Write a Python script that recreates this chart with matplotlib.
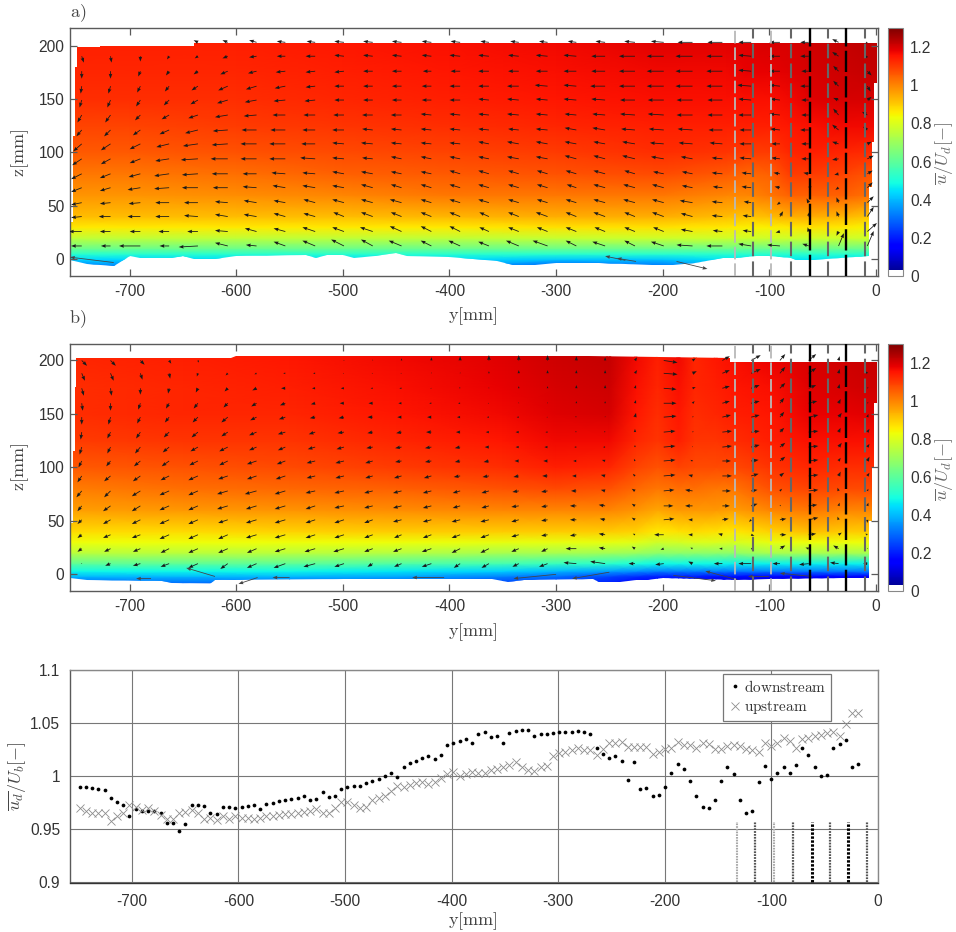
import numpy as np
import matplotlib
matplotlib.use('Agg')
import matplotlib.pyplot as plt
from matplotlib.colors import ListedColormap, Normalize
from matplotlib.cm import ScalarMappable
from matplotlib.patches import Polygon

plt.rcParams['font.family'] = ['Liberation Sans', 'DejaVu Sans']
plt.rcParams['mathtext.fontset'] = 'cm'
plt.rcParams['axes.unicode_minus'] = False
n = float('nan')

# ---------- bottom panel ----------
downstream = [.990,.990,.989,.988,.987,.979,.976,.973,.962,.969,.967,.9675,.967,.965,.956,.956,.948,.955,.973,.973,.972,.965,.964,.971,.971,.970,.971,.972,.973,.969,.974,.975,.9765,.977,.978,.979,.981,.977,.978,.985,.980,.981,.988,.990,.991,.991,.993,.995,.9975,1.0,1.003,.999,1.008,1.012,1.014,1.017,1.019,1.016,1.020,1.029,1.031,1.033,1.035,1.031,1.039,
 1.0416,1.037,1.0375,1.031,1.0406,1.042,1.043,1.0434,1.038,1.039,1.039,1.0406,1.041,1.041,1.041,1.042,1.041,1.039,1.0266,1.021,1.0166,1.019,1.014,.9966,1.013,.988,.989,.9816,.982,.9897,1.0025,1.011,1.007,.9956,.9816,.971,.970,.977,.995,1.008,1.002,.977,.965,.967,.994,1.009,.9975,1.0025,1.008,1.003,1.010,1.0266,1.02,1.008,1.0,1.001,1.0266,1.03,1.034,1.008,1.011]
upstream = [.9697,.9675,.9656,.965,.9656,.958,.9625,.965,.9725,.9706,.968,.97,.9675,.9634,.960,.960,.9656,.9666,.968,.965,.960,.9603,.959,.962,.96,.9625,.961,.961,.96,.9606,.962,.962,.963,.9644,.9644,.9656,.9666,.9675,.969,.965,.965,.970,.976,.976,.973,.9697,.971,.9775,.979,.981,.986,.991,.990,.9916,.993,.9947,.9925,.9947,.998,1.0016,1.004,1.0,1.0016,1.004,1.0025,
 1.003,1.006,1.007,1.008,1.0106,1.013,1.008,1.0056,1.0044,1.008,1.0097,1.019,1.022,1.023,1.0244,1.026,1.024,1.0244,1.020,1.025,1.0306,1.031,1.032,1.0275,1.0275,1.0275,1.0275,1.021,1.0225,1.025,1.026,1.032,1.029,1.029,1.026,1.0306,1.0297,1.0256,1.0256,1.028,1.029,1.028,1.025,1.0244,1.023,1.0306,1.028,1.031,1.036,1.033,1.026,1.035,1.036,1.0375,1.0384,1.0406,1.0416,1.0375,1.0484,1.059,1.0588]
station_y = np.linspace(-749, -18.5, len(downstream))

probe_light = [-132, -98]
probe_gray = [-115, -80, -45, -10]
probe_black = [-62, -28]

x_ticks = [-700, -600, -500, -400, -300, -200, -100, 0]

# ---------- panel a colour field ----------
field_a_y = [-756,-700,-600,-500,-400,-300,-200,-140,-120,-100,-80,-60,-30,2]
field_a_z = [-8,0,5,10,20,30,40,60,80,100,125,150,175,205]
field_a = [
 [.30,.30,.36,.36,.36,.25,.28,.38,.38,.38,.38,.38,.38,.38],
 [.44,.44,.45,.45,.45,.42,.42,.46,.46,.46,.46,.46,.46,.46],
 [.52,.52,.52,.52,.52,.52,.52,.52,.52,.52,.52,.52,.52,.52],
 [.62,.62,.62,.62,.62,.62,.62,.62,.62,.62,.62,.62,.62,.62],
 [.76,.76,.76,.76,.76,.77,.78,.78,.78,.78,.78,.78,.78,.78],
 [.86,.86,.86,.86,.86,.87,.87,.86,.85,.85,.86,.87,.86,.84],
 [.92,.92,.92,.92,.93,.94,.94,.92,.91,.92,.94,.94,.93,.9],
 [.98,.98,.99,1.0,1.02,1.02,1.02,1.0,1.0,1.02,1.05,1.05,1.05,1.02],
 [1.02,1.02,1.03,1.05,1.06,1.07,1.08,1.06,1.04,1.05,1.1,1.1,1.09,1.06],
 [1.06,1.06,1.07,1.08,1.09,1.1,1.12,1.11,1.1,1.1,1.13,1.14,1.13,1.12],
 [1.09,1.09,1.10,1.11,1.12,1.13,1.14,1.14,1.14,1.14,1.15,1.16,1.17,1.17],
 [1.12,1.12,1.12,1.13,1.14,1.15,1.16,1.16,1.16,1.16,1.17,1.19,1.2,1.2],
 [1.13,1.13,1.13,1.14,1.15,1.16,1.17,1.17,1.18,1.18,1.19,1.2,1.21,1.22],
 [1.14,1.14,1.14,1.15,1.16,1.17,1.19,1.19,1.19,1.2,1.2,1.21,1.22,1.23],
]
outline_a_y = [-749,-728,-728,-640,-640,1,1,-2,-2,-4,-4,-6,-6,-60,-75,-80,-100,-112,-130,-143,-170,-190,-210,-260,-300,-320,-340,-355,-400,-440,-450,-470,-490,-500,-515,-525,-535,-600,-620,-640,-650,-660,-690,-700,-715,-740,-756,-756,-753,-753,-751,-751,-749]
outline_a_z = [199,199,200,200,202,202,165,165,110,110,68,68,3,-1,-1,1,3,3,1,1,-3,-5,-5,-3,-3,-5,-5,-2,2,3,6,3,1,4,4,1,4,3,0,0,3,1,1,3,-6,-4,-1,35,35,115,115,180,180]

# ---------- panel b colour field ----------
field_b_y = [-756,-650,-550,-450,-350,-300,-250,-225,-205,-185,-170,-150,-135,-100,-60,-30,2]
field_b_z = [-8,-2,3,10,20,30,40,60,80,100,125,150,175,205]
field_b = [
 [.3,.3,.3,.3,.25,.25,.2,.15,.15,.15,.15,.12,.1,.1,.1,.1,.1],
 [.40,.40,.40,.38,.33,.3,.25,.22,.2,.2,.2,.18,.18,.16,.16,.16,.16],
 [.48,.48,.48,.46,.43,.40,.37,.35,.33,.33,.33,.33,.32,.32,.32,.32,.32],
 [.6,.6,.6,.58,.56,.54,.52,.5,.48,.48,.48,.48,.47,.47,.47,.47,.47],
 [.75,.75,.75,.74,.72,.72,.71,.7,.68,.68,.68,.68,.68,.72,.72,.72,.72],
 [.83,.83,.83,.83,.82,.82,.82,.81,.78,.79,.80,.80,.79,.82,.83,.83,.83],
 [.88,.88,.89,.90,.90,.90,.90,.89,.86,.87,.88,.87,.86,.89,.92,.9,.9],
 [.96,.97,.98,.99,1.0,1.0,1.0,.98,.95,.97,.97,.97,.96,1.0,1.02,1.0,1.0],
 [1.01,1.03,1.04,1.05,1.07,1.08,1.07,1.04,1.02,1.03,1.03,1.02,1.02,1.07,1.09,1.08,1.08],
 [1.06,1.07,1.08,1.1,1.12,1.14,1.13,1.09,1.07,1.09,1.08,1.08,1.08,1.11,1.13,1.12,1.12],
 [1.1,1.11,1.11,1.13,1.15,1.17,1.17,1.13,1.11,1.14,1.11,1.11,1.12,1.14,1.16,1.16,1.16],
 [1.12,1.13,1.13,1.15,1.17,1.19,1.2,1.15,1.12,1.15,1.12,1.13,1.14,1.15,1.18,1.18,1.19],
 [1.12,1.13,1.14,1.16,1.18,1.2,1.21,1.16,1.13,1.16,1.13,1.14,1.15,1.16,1.19,1.2,1.21],
 [1.13,1.14,1.15,1.17,1.19,1.21,1.22,1.17,1.14,1.17,1.13,1.15,1.16,1.18,1.2,1.21,1.22],
]
outline_b_y = [-750,-605,-600,-270,-137,-137,1,1,-2,-2,-4,-4,-6,-6,-30,-100,-130,-200,-215,-225,-240,-260,-265,-330,-345,-360,-500,-620,-625,-660,-670,-740,-756,-756,-753,-753,-751,-751,-750]
outline_b_z = [202,202,204,204,202,199,199,160,160,100,100,50,50,-3,-3,-4,-5,-3,-5,-5,-7,-7,-4,-5,-7,-4,-4,-5,-9,-8,-6,-5,-3,48,48,115,115,175,175]

# ---------- arrow grid (one row per height, one column per station) ----------
arrow_y = [-745,-718,-690,-663,-636,-608,-581,-554,-526,-499,-472,-445,-417,-390,-363,-335,-308,-281,-254,-226,-199,-172,-144,-117,-90,-63,-35,-8]
arrow_a_z = [12.5,26,40,53,67,80,94,108,121,135,149,162,176,190,203]
arrow_b_z = [10,24,37,51,64,78,92,106,119,133,147,160,174,188,200]

a_dy = [
 [-10,-9,-20,-9,-18,-12,-10,-11,-12,-12,-11,-12,-10,-11,-10,-12,-14,-10,-12,-10,-12,-15,-15,-12,-12,-6,5,6],
 [-12,-10,-10,-10,-10,-12,-11,-11,-12,-11,-12,-11,-10,-10,-9,-10,-10,-10,-10,-10,-10,-11,-9,-8,-4,-1,-2,9],
 [-10,-11,-12,-13,-13,-12,-12,-11,-11,-10,-11,-10,-10,-10,-9,-10,-11,-10,-11,-10,-11,-11,-10,-8,3,1,-2,6],
 [-10,-10,-11,-13,-13,-12,-12,-11,-11,-11,-11,-11,-10,-10,-10,-10,-10,-10,-11,-11,-11,-12,-10,-7,-3,-2,-2,6],
 [-10,-10,-12,-14,-15,-14,-13,-12,-12,-11,-11,-10,-10,-10,-10,-10,-10,-9,-11,-11,-11,-10,-9,-9,-5,3,-3,5],
 [-10,-10,-11,-14,-15,-15,-13,-13,-12,-11,-11,-10,-10,-10,-10,-10,-10,-10,-11,-10,-10,-10,-10,-9,-6,-5,-4,5],
 [-9,-9,-10,-13,-16,-16,-15,-15,-14,-11,-10,-10,-10,-10,-10,-11,-11,-11,-11,-12,-12,-11,-10,-11,-8,-7,-6,6],
 [-8,-9,-10,-12,-14,-15,-15,-15,-13,-11,-11,-10,-10,-10,-10,-11,-11,-11,-11,-12,-13,-13,-12,-11,-8,-7,-6,4],
 [-5,-6,-7,-9,-12,-14,-14,-14,-12,-11,-10,-10,-10,-10,-10,-10,-11,-11,-12,-13,-14,-14,-13,-11,-9,-8,-6,-4],
 [-4,-5,-5,-7,-9,-12,-12,-12,-11,-10,-10,-10,-10,-10,-10,-11,-11,-11,-12,-14,-15,-15,-14,-12,-10,-7,-5,-5],
 [-2,-3,-4,-5,-7,-10,-11,-11,-10,-9,-9,-9,-9,-10,-10,-11,-11,-12,-13,-14,-15,-15,-14,-12,-9,-7,-5,4],
 [-1,-2,-3,-4,-6,-9,-10,-10,-9,-9,-9,-9,-9,-10,-10,-11,-12,-12,-14,-15,-16,-16,-15,-13,-10,-8,-5,3],
 [0,0,-2,-3,-4,-7,-8,-9,-9,-9,-9,-9,-8,-9,-10,-10,-11,-12,-13,-15,-16,-16,-15,-12,-10,-7,-5,4],
 [2,1,0,-2,-3,-5,-7,-8,-9,-9,-9,-9,-9,-10,-10,-10,-11,-12,-13,-15,-16,-16,-15,-12,-10,-8,-6,-2],
 [n,n,n,n,-4,-5,-7,-8,-8,-9,-9,-9,-9,-9,-8,-8,-8,-8,-9,-10,-12,-14,-14,-12,-10,-8,-6,-2],
]
a_dz = [
 [0,0,0,0,-1,3,1,4,5,6,6,5,5,5,4,5,5,5,4,5,4,1,0,2,1,2,12,14],
 [0,0,0,0,0,1,3,3,4,4,4,5,5,5,4,4,4,4,4,4,4,2,1,1,-1,4,-4,8],
 [-1,0,0,0,1,2,2,3,3,4,4,4,4,4,4,4,4,4,4,4,4,3,1,1,5,5,5,9],
 [-2,-1,-1,0,0,1,2,2,3,3,3,3,3,3,3,3,3,3,3,3,3,2,1,1,-2,4,5,6],
 [-4,-3,-2,-1,0,0,1,2,2,2,3,3,3,3,3,3,3,3,3,3,3,2,1,1,1,1,-2,5],
 [-5,-4,-3,-2,-1,0,0,1,1,2,2,2,2,3,3,3,3,3,3,3,2,2,1,1,1,1,-1,3],
 [-6,-5,-4,-2,-1,0,0,0,1,1,1,2,2,2,2,2,2,3,3,3,2,2,1,1,1,0,-1,3],
 [-7,-6,-5,-3,-2,-1,0,0,0,1,1,1,1,1,2,2,2,2,2,2,1,1,1,0,0,0,2,2],
 [-6,-6,-5,-4,-3,-1,0,0,0,0,1,1,1,1,1,1,1,2,2,1,1,1,0,0,1,0,5,3],
 [-7,-7,-5,-4,-3,-2,-1,0,0,0,0,0,1,1,1,1,1,1,1,1,1,0,0,0,1,0,6,3],
 [-7,-7,-6,-5,-4,-3,-2,-1,-1,0,0,0,0,0,1,1,1,1,1,0,0,0,0,1,1,0,2,3],
 [-7,-7,-6,-5,-4,-4,-3,-2,-1,0,0,0,0,0,0,0,1,1,0,0,0,0,0,1,1,0,5,-5],
 [-7,-7,-5,-4,-3,-3,-2,-1,-1,-1,0,0,0,0,0,0,0,0,0,0,0,0,0,1,0,0,5,-4],
 [-6,-6,-5,-3,-2,-2,-1,0,0,1,1,1,1,1,1,1,1,1,0,0,0,0,0,1,0,0,4,-2],
 [n,n,n,n,2,2,2,1,1,1,1,1,1,1,1,1,1,1,1,1,1,0,0,0,0,0,3,-1],
]
b_dy = [
 [0,-5,-7,-8,-9,-7,-9,-11,-11,-9,-5,-7,-9,-6,-7,-6,-8,-12,-14,-6,-8,-4,-8,-12,-7,-9,-8,-4],
 [-4,-6,-7,-8,-9,-9,-9,-10,-10,-10,-8,-8,-9,-8,-8,-7,-6,-10,-6,-3,-3,-2,-3,2,5,-3,-5,0],
 [-4,-7,-8,-9,-9,-9,-10,-10,-9,-9,-8,-7,-8,-8,-8,-7,-6,-6,-6,-2,-9,-4,-4,3,6,7,3,-2],
 [-4,-7,-8,-9,-9,-9,-10,-10,-9,-9,-8,-8,-8,-8,-8,-7,-6,-6,-5,-3,10,-4,6,-2,6,9,-1,0],
 [-4,-7,-8,-9,-9,-10,-10,-10,-9,-9,-8,-8,-8,-7,-7,-7,-6,-6,-6,-3,9,-7,7,6,1,8,1,1],
 [-5,-6,-8,-9,-9,-10,-11,-10,-9,-9,-8,-8,-8,-7,-7,-6,-6,-5,-4,-3,10,-7,8,6,2,9,-1,1],
 [-4,-6,-7,-8,-9,-9,-9,-9,-8,-8,-7,-7,-7,-6,-6,-5,-5,-4,-4,-2,11,-4,9,7,4,9,2,2],
 [-3,-4,-6,-7,-8,-8,-9,-8,-8,-8,-7,-6,-6,-5,-5,-4,-4,-3,-3,-1,11,-2,8,7,5,9,2,2],
 [-2,-3,-5,-6,-7,-8,-7,-7,-7,-7,-6,-6,-6,-5,-4,-3,-3,-2,-2,0,11,0,9,8,5,9,3,2],
 [-1,-3,-4,-5,-6,-6,-7,-7,-6,-6,-5,-5,-5,-4,-3,-3,-2,-1,-1,0,11,1,9,8,4,9,2,2],
 [0,-2,-3,-4,-5,-6,-6,-6,-5,-5,-5,-4,-4,-3,-2,-2,-1,-1,0,1,12,1,8,8,4,9,3,1],
 [1,0,-2,-3,-4,-4,-5,-5,-4,-4,-4,-3,-2,-2,-1,0,0,0,0,1,12,2,7,8,4,8,2,1],
 [2,1,0,-1,-2,-3,-4,-4,-3,-3,-2,-2,-1,-1,0,0,0,0,0,1,12,3,7,8,5,7,1,1],
 [3,3,2,1,-1,-2,-2,-2,-2,-1,-1,-1,0,0,0,0,0,0,0,2,13,4,7,9,5,7,1,-2],
 [5,5,4,2,1,n,n,n,n,0,0,0,0,0,0,0,0,0,0,2,13,3,7,9,5,7,1,n],
]
b_dz = [
 [0,-2,-2,-3,-4,-5,-4,-4,-3,-3,-3,-3,-3,-4,-4,-3,-3,1,2,0,-1,2,0,0,0,-1,1,0],
 [-3,-3,-3,-4,-4,-4,-4,-3,-3,-3,-3,-3,-3,-4,-4,-3,-3,0,1,2,-1,1,0,0,3,1,3,0],
 [-3,-3,-3,-4,-4,-4,-3,-3,-3,-3,-3,-3,-3,-3,-3,-2,-1,-1,1,1,0,0,1,-1,0,1,2,1],
 [-4,-4,-4,-4,-4,-3,-3,-3,-3,-3,-3,-2,-2,-2,-2,-2,-1,0,1,2,1,0,1,-2,1,2,3,-3],
 [-5,-5,-5,-4,-4,-3,-3,-3,-3,-2,-2,-2,-2,-2,-2,-1,-1,0,1,2,0,0,0,2,1,1,3,3],
 [-6,-6,-5,-4,-4,-3,-3,-3,-2,-2,-2,-2,-2,-2,-2,-1,-1,0,1,2,1,1,0,1,2,1,3,2],
 [-6,-5,-5,-4,-4,-3,-3,-3,-2,-2,-2,-2,-2,-1,-1,-1,0,0,1,2,1,1,0,2,3,1,4,3],
 [-6,-5,-5,-5,-4,-4,-3,-3,-2,-2,-2,-1,-1,-1,-1,0,0,0,1,2,1,1,0,1,4,1,3,4],
 [-7,-6,-6,-5,-4,-4,-3,-3,-2,-2,-1,-1,-1,-1,0,0,0,0,0,2,1,1,1,2,4,1,4,3],
 [-7,-6,-6,-5,-5,-4,-3,-2,-2,-1,-1,-1,0,0,0,0,0,1,1,3,1,1,1,1,4,1,4,3],
 [-7,-7,-6,-5,-5,-5,-3,-2,-1,-1,0,0,0,0,0,0,0,1,1,4,1,1,2,2,5,2,4,3],
 [-7,-7,-6,-5,-5,-4,-3,-2,-1,0,0,0,0,0,0,1,1,2,2,3,0,2,2,2,5,2,4,1],
 [-7,-7,-6,-5,-4,-3,-2,0,0,0,0,0,0,1,1,2,2,3,3,3,-1,1,2,3,5,3,4,1],
 [-7,-7,-6,-5,-3,-2,-1,0,0,0,0,0,1,1,2,3,3,3,3,3,-1,2,3,4,6,5,4,2],
 [-5,-5,-4,-3,-2,0,n,n,n,0,1,2,3,4,5,5,5,4,3,3,-2,2,4,5,6,6,4,0],
]
# long wall-near arrows
wall_a_y = [-715,-235,-225,-187]
wall_a_z = [-3,-1,-2,-2]
wall_a_dy = [-41,-19,-18,29]
wall_a_dz = [5,4,3,-7]
wall_b_y = [-620,-580,-405,-550,-680,-300,-250,-190,-100,-60,-130]
wall_b_z = [-2,-3,-3,-3,-4,0,2,-1,-2,-2,-5]
wall_b_dy = [-27,-18,-30,-16,-14,-40,-35,40,-20,-30,-30]
wall_b_dz = [8,-6,0,0,0,-4,-6,-5,0,3,8]

W, H = 956, 932
fig = plt.figure(figsize=(W/100, H/100), dpi=100)
def make_ax(l, t, r, b):
    return fig.add_axes([l/W, 1-b/H, (r-l)/W, (b-t)/H])

c = plt.get_cmap('jet')(np.linspace(0, 1, 256))
c[:6] = [1, 1, 1, 1]
cmap = ListedColormap(c)
norm = Normalize(0, 1.3)
EDGE = '#5a5a5a'
TXT = '#333333'
LAB = '#444444'

def style(ax):
    for s in ax.spines.values():
        s.set_color(EDGE); s.set_linewidth(1.0)
    ax.set_xticks(x_ticks)
    ax.tick_params(labelsize=11.2, labelcolor=TXT, color=EDGE, width=0.9)

def panel(ax, fy, fz, f, oy, oz, adz_rows, dy, dz, wy, wz, wdy, wdz, ylim):
    X, Z = np.meshgrid(fy, fz)
    m = ax.pcolormesh(X, Z, np.array(f), shading='gouraud', cmap=cmap, norm=norm, rasterized=True, zorder=1)
    clip = Polygon(np.column_stack([oy, oz]), closed=True, transform=ax.transData, fc='none', ec='none')
    ax.add_patch(clip)
    m.set_clip_path(clip)
    AX, AZ = np.meshgrid(arrow_y, adz_rows)
    kw = dict(angles='xy', scale_units='xy', scale=1, width=0.0010, headwidth=4.5, headlength=6, headaxislength=5.5, zorder=3)
    ax.quiver(AX, AZ, np.array(dy, float), np.array(dz, float), color='#1a1a1a', **kw)
    ax.quiver(wy, wz, wdy, wdz, color='#444444', **kw)
    for xs, col, lw, pat in [(probe_light, '#b9b9b9', 1.3, (7, 2.2)), (probe_gray, '#666666', 1.5, (7, 2.5)), (probe_black, '#000000', 1.7, (9, 1.8))]:
        for x in xs:
            ax.plot([x, x], ylim, color=col, lw=lw, ls=(0, pat), zorder=4, dash_capstyle='butt')
    ax.set_xlim(-756, 2); ax.set_ylim(*ylim)
    ax.set_yticks([0, 50, 100, 150, 200])
    style(ax)
    ax.tick_params(direction='in', length=5, top=True, right=True, pad=4)
    ax.tick_params(axis='x', pad=6)

axa = make_ax(70, 28, 878, 276)
panel(axa, field_a_y, field_a_z, field_a, outline_a_y, outline_a_z, arrow_a_z, a_dy, a_dz, wall_a_y, wall_a_z, wall_a_dy, wall_a_dz, (-15.6, 216.4))
axb = make_ax(70, 344, 878, 591)
panel(axb, field_b_y, field_b_z, field_b, outline_b_y, outline_b_z, arrow_b_z, b_dy, b_dz, wall_b_y, wall_b_z, wall_b_dy, wall_b_dz, (-15.6, 215.4))

for (t, b) in [(28, 276), (344, 591)]:
    cax = make_ax(888, t, 903, b)
    cb = fig.colorbar(ScalarMappable(norm=norm, cmap=cmap), cax=cax)
    cb.set_ticks([0, .2, .4, .6, .8, 1, 1.2], labels=['0', '0.2', '0.4', '0.6', '0.8', '1', '1.2'])
    cax.tick_params(length=0, labelsize=11.2, labelcolor=TXT, pad=5)
    cb.outline.set_edgecolor('#888888'); cb.outline.set_linewidth(0.8)
    fig.text(944/W, 1-(t+125)/H, r'$\overline{u}/U_d[-]$', rotation=90, ha='center', va='center', fontsize=13, color='#666666')

# bottom panel
axc = make_ax(70, 669.5, 878, 882.5)
axc.plot(station_y, downstream, ls='none', marker='o', ms=2.7, color='black', mec='none', label=r'$\mathrm{downstream}$', zorder=3)
axc.plot(station_y, upstream, ls='none', marker='x', ms=6.2, mew=0.6, color='#8c8c8c', label=r'$\mathrm{upstream}$', zorder=3)
for xs, col, lw in [(probe_light, '#a8a8a8', 1.5), (probe_gray, '#555555', 1.6), (probe_black, '#000000', 2.2)]:
    for x in xs:
        axc.plot([x, x], [0.9, 0.957], color=col, lw=lw, ls=(0, (0.8, 0.5)), zorder=2, dash_capstyle='butt')
axc.set_xlim(-758, 0); axc.set_ylim(0.9, 1.1)
axc.set_yticks([.9, .95, 1, 1.05, 1.1], labels=['0.9', '0.95', '1', '1.05', '1.1'])
style(axc)
axc.tick_params(length=0, pad=7)
axc.tick_params(axis='x', pad=8)
axc.grid(color='#777777', lw=0.8)
axc.set_axisbelow(True)
axc.spines['top'].set_color('#888888'); axc.spines['right'].set_color('#888888'); axc.spines['bottom'].set_color('#333333')
leg = axc.legend(loc='upper left', bbox_to_anchor=(723/W, 1-674/H), bbox_transform=fig.transFigure, fontsize=11,
                 frameon=True, fancybox=False, framealpha=1, edgecolor='#777777', labelcolor='#333333',
                 borderpad=0.3, labelspacing=0.3, handletextpad=0.1, handlelength=1.0, borderaxespad=0)
leg.get_frame().set_linewidth(0.9)

kw = dict(ha='center', va='center', fontsize=13, color=LAB)
fig.text(473/W, 1-316/H, r'$\mathrm{y[mm]}$', **kw)
fig.text(473/W, 1-632/H, r'$\mathrm{y[mm]}$', **kw)
fig.text(473/W, 1-921/H, r'$\mathrm{y[mm]}$', **kw)
fig.text(20/W, 1-153/H, r'$\mathrm{z[mm]}$', rotation=90, **kw)
fig.text(20/W, 1-467/H, r'$\mathrm{z[mm]}$', rotation=90, **kw)
fig.text(17/W, 1-776/H, r'$\overline{u_d}/U_b[-]$', rotation=90, **kw)
fig.text(78/W, 1-13/H, r'$\mathrm{a)}$', **kw)
fig.text(78/W, 1-319/H, r'$\mathrm{b)}$', **kw)

fig.savefig('out.png', dpi=100)
